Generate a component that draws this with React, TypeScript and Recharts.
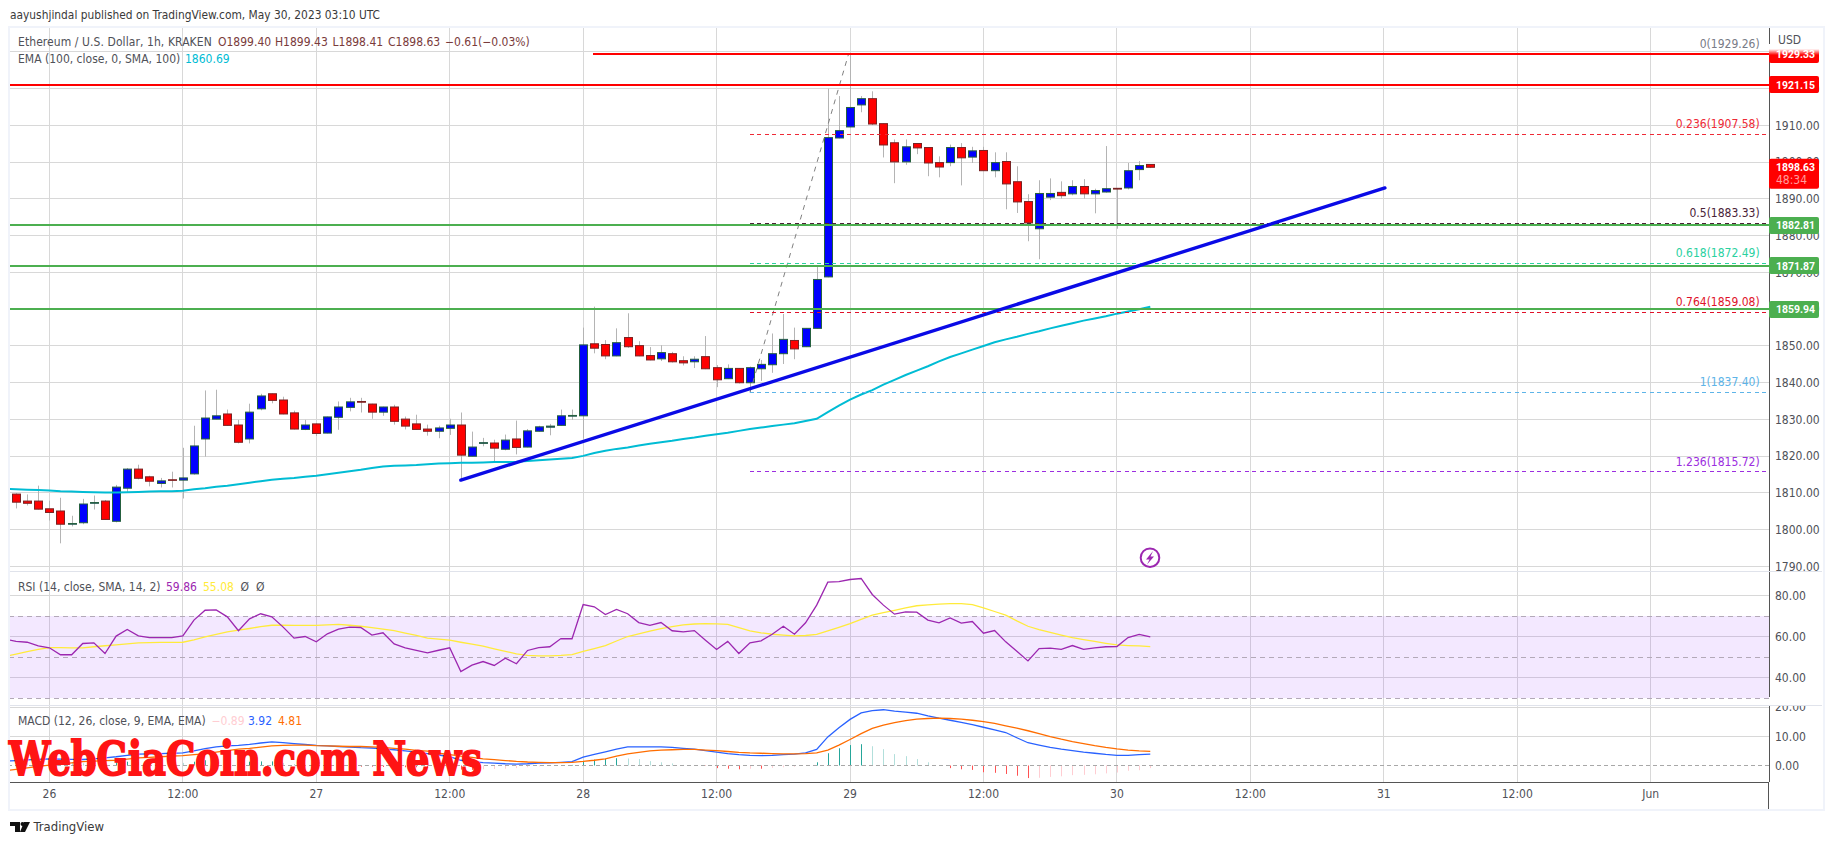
import React from 'react';
import { ComposedChart, Bar, Line, XAxis, YAxis, CartesianGrid, ReferenceLine, ReferenceArea } from 'recharts';

// Hour offset from May 26 00:00, first candle at -3
const firstHour = -3;
// open, high, low, close
const candles: number[][] = [
  [1809.7,1809.9,1805.8,1807.5],[1807.8,1809.6,1806.6,1807.2],[1807.8,1812,1805.5,1805.6],[1805.7,1807.9,1802.5,1804.7],
  [1805.1,1808.7,1796.3,1801.5],[1801.5,1803.8,1800.9,1801.7],[1801.9,1808.4,1801.5,1807],[1807.2,1809.3,1805.5,1807.4],
  [1807.8,1808.1,1802.7,1802.8],[1802.3,1812.2,1802,1811.6],[1811.3,1816.8,1810,1816.5],[1816.5,1817.7,1813.7,1814],
  [1814.4,1814.7,1811.8,1813.2],[1812.6,1814.1,1811.5,1813.3],[1813.6,1815.8,1811.5,1813.5],[1813.5,1822.3,1808.5,1814.1],
  [1815.2,1828.3,1815,1822.8],[1824.7,1837.9,1819.9,1830.4],[1830.1,1838.1,1830,1831],[1831.5,1832.7,1828.3,1828.4],
  [1828.5,1829.9,1823.5,1823.8],[1824.7,1834.3,1823.5,1832],[1832.9,1837,1832.5,1836.4],[1837,1837.1,1834.4,1835.2],
  [1835.3,1836.2,1831.4,1831.5],[1831.8,1832.4,1827.3,1827.4],[1827.3,1829.9,1827.1,1828.5],[1828.8,1829,1825.5,1826.2],
  [1826.3,1830.8,1826.2,1830.7],[1830.6,1834.9,1827.2,1833.4],[1833.3,1835.9,1832.2,1834.8],[1834.9,1835.9,1831.9,1834.7],
  [1834.2,1834.3,1830.2,1832],[1832,1833.5,1831,1833.4],[1833.4,1834,1828.6,1829.5],[1830.1,1830.8,1827.3,1828.2],
  [1828.8,1831.3,1827.2,1827.3],[1827.4,1828.6,1825.6,1826.8],[1826.8,1828.3,1824.9,1827.7],[1827.6,1830.2,1825.8,1828.5],
  [1828.5,1831.9,1813.4,1820.3],[1820,1826.7,1819.9,1822.5],[1823.5,1825,1822.7,1823.7],[1823.6,1824.5,1818.2,1822.2],
  [1821.9,1825.9,1821.6,1824.4],[1824.7,1829.7,1820.5,1822.4],[1822.5,1827.4,1822.4,1826.9],[1826.8,1828.3,1826.7,1828],
  [1827.9,1828.8,1825.7,1828.2],[1828.4,1832.7,1828.3,1831],[1830.9,1832.7,1829.9,1831.1],[1831,1855,1824.8,1850.3],
  [1850.6,1860.7,1848,1849.4],[1850.4,1851.6,1846.4,1847.3],[1847.3,1854.8,1847.2,1850.9],[1852.3,1858.9,1849.5,1849.8],
  [1850.1,1851.3,1847.2,1847.3],[1847.4,1849.7,1846.1,1846.2],[1846.5,1850.2,1845.9,1848.2],[1847.9,1848.4,1845.5,1845.7],
  [1846,1847.2,1844.7,1845.4],[1845.7,1847.2,1844,1846.4],[1847.1,1852.7,1843.7,1843.8],[1844.1,1844.8,1838.8,1840.8],
  [1841.1,1845,1841,1843.9],[1843.9,1844,1839.8,1840],[1840,1844.4,1837.4,1844.1],[1843.8,1846.2,1840.5,1845],
  [1844.9,1853.4,1842.7,1847.9],[1847.9,1858.7,1845.1,1851.8],[1851.5,1855,1846.4,1849.2],[1849.8,1854.9,1849.7,1854.8],
  [1854.8,1872,1854.7,1868.1],[1868.8,1920,1868.7,1906.7],[1906.6,1918,1906.5,1908.6],[1909.6,1929.3,1909.5,1914.9],
  [1915.6,1918,1913.6,1917.3],[1917.3,1919.3,1910.1,1910.4],[1910.5,1910.6,1901.3,1904.7],[1905.3,1906.2,1894.3,1900.1],
  [1900.1,1906.2,1899.3,1904.2],[1905.1,1905.2,1902.2,1903.9],[1904,1904.1,1896.2,1899.8],[1899.9,1901.6,1895.9,1898.7],
  [1899.9,1904.8,1898.9,1904],[1904,1905.2,1893.7,1901.2],[1901.4,1904.2,1899.8,1903.1],[1903.2,1904.2,1897.6,1897.7],
  [1897.7,1902.7,1895.9,1899.9],[1900.2,1902.7,1887.2,1894.1],[1894.7,1898.9,1886.2,1889.2],[1889.3,1891.3,1878.5,1883.5],
  [1881.9,1895.1,1873.6,1891.5],[1890.5,1895.6,1889.7,1891.5],[1891.8,1894.8,1890.1,1890.9],[1891.4,1895.1,1891,1893.4],
  [1893.4,1895.4,1890.1,1891.4],[1891.4,1892.8,1886.1,1892.3],[1891.9,1904.4,1891.7,1892.8],[1892.9,1893,1881.9,1892.7],
  [1893,1899.8,1892.6,1897.7],[1898,1900.3,1895.1,1899.1],[1899.4,1899.43,1898.41,1898.63],
];
// The lines below begin one hour earlier than the candles (h = -4), running off the left edge
const emaValues = [1811.1,1811,1810.9,1810.8,1810.7,1810.5,1810.4,1810.3,1810.2,1810.1,1810.1,1810.2,1810.3,1810.4,1810.5,1810.5,1810.6,1811,1811.3,1811.7,1812,1812.4,1812.8,1813.2,1813.6,1813.9,1814.1,1814.4,1814.7,1815.1,1815.5,1815.9,1816.3,1816.8,1817.2,1817.4,1817.5,1817.6,1817.8,1818,1818.1,1818.2,1818.2,1818.3,1818.4,1818.4,1818.5,1818.7,1818.9,1819.1,1819.3,1819.5,1820.1,1820.9,1821.5,1822,1822.4,1822.9,1823.4,1823.8,1824.2,1824.7,1825.1,1825.6,1826,1826.4,1826.9,1827.4,1827.8,1828.2,1828.6,1829,1829.6,1830.2,1832,1833.8,1835.4,1836.8,1838,1839.5,1840.8,1842.1,1843.3,1844.5,1845.8,1847,1848,1849,1850,1851,1851.8,1852.5,1853.3,1854,1854.8,1855.5,1856.2,1856.9,1857.5,1858.1,1858.8,1859.4,1860,1860.69];
const rsiValues = [58.7,57.6,57.2,55.4,54.5,51.1,51.1,56.6,56.9,51.7,60.2,63.4,60.3,59.5,59.5,59.5,60.3,68,72.8,73,69.6,62.8,68.6,71.1,69.6,64.7,59.2,60,57.4,61.3,63.6,64.6,64.4,60.7,61.8,56.4,54.5,53.2,52,53.3,54.5,42.9,46,47.8,45.9,49.4,46.7,53.2,54.6,55,59,58.9,75.6,74.5,70.7,73.2,71.1,66.8,65.4,66.8,62.8,62.3,62.9,58.2,53.7,57.6,51.7,56.9,57.9,61.1,65,61.1,66.7,75.3,86.5,86.8,87.8,88.3,80.5,75.3,70.9,72,71.9,68,66.7,69.1,66.5,67.3,61.6,62.9,57.4,52.8,48.1,54.1,54.3,53.7,55.6,53.7,54.5,55,55.1,59.5,61,59.86];
const rsiMaValues = [50.3,51.4,52.6,53.7,54.6,54.6,54.5,54.5,55,55.5,55.9,56.4,56.9,57,57.1,57.1,57.2,58.4,59.8,61,62.3,63.1,63.9,64.8,65.5,65.5,65.4,65.4,65.4,65.7,65.9,65.5,65,64.3,63.6,62.9,61.7,60.5,59.2,58.7,58.2,57.2,56.3,55.3,54,52.8,51.5,50.8,50.6,50.6,50.8,51.2,52.7,54.1,55.6,57.8,60,61.3,62.6,63.8,64.8,65.7,66.1,66.3,66.2,65.9,64.3,62.8,61.8,61.1,60.7,60.3,60.5,61,62.7,64.5,66.3,68.4,70.4,71.6,72.8,74,75,75.4,75.8,76,76,75.6,74,72.2,70.4,67.6,65,63.4,62,60.7,59.5,58.5,57.6,56.7,55.9,55.6,55.4,55.08];
const macdValues = [1.5,1.7,1.9,2.1,2.3,2.2,2.1,2.05,2.3,2.6,3,3.5,3.9,4,4.1,4.2,4.3,5,5.8,6.4,6.7,6.9,7.2,7.7,8.1,7.8,7.5,7.2,6.9,6.7,6.5,6.3,6.1,6,5.7,5.4,5,4.6,4.1,3.6,3,1.8,1.3,1,0.8,0.6,0.5,0.6,0.8,0.9,1.1,1.3,2.9,3.8,4.7,5.6,6.4,6.4,6.4,6.4,6.2,5.9,5.6,5.1,4.6,4.1,3.7,3.5,3.4,3.5,3.7,3.9,4.3,5.5,9.8,12.9,15.8,18,18.8,19.1,18.6,18.3,17.9,17,16.2,15.5,14.8,14,13.1,12.2,11.3,9.5,7.8,7,6.2,5.6,5.1,4.6,4.2,3.8,3.5,3.5,3.7,3.92];
const signalValues = [-1.8,-1.3,-0.8,-0.3,0.1,0.5,0.9,1.3,1.5,1.7,1.8,2.2,2.6,2.8,3,3.2,3.4,3.7,4,4.6,5.1,5.6,5.9,6.3,6.7,6.9,7,7,6.8,6.7,6.6,6.5,6.5,6.4,6.2,5.9,5.6,5.2,4.9,4.2,3.7,3.2,2.8,2.3,2,1.7,1.4,1.2,1.1,1,1,1.1,1.4,1.8,2.3,3.2,4,4.5,5,5.3,5.4,5.5,5.5,5.3,5.1,4.8,4.5,4.3,4.2,4.1,4,4,4.1,4.3,5.3,7,8.9,10.9,12.7,13.8,14.7,15.4,15.9,16.1,16.2,16.1,15.9,15.5,15,14.4,13.6,12.8,11.9,10.9,9.9,9,8.2,7.5,6.8,6.2,5.7,5.3,5,4.81];
// Histogram starts at h = -3 like the candles
const histValues = [3,2.7,2.4,2.2,1.7,1.2,0.75,0.8,0.9,1.2,1.3,1.3,1.2,1.1,1,0.9,1.3,1.8,1.8,1.6,1.3,1.3,1.4,1.4,0.9,0.5,0.2,0.1,0,-0.1,-0.2,-0.4,-0.4,-0.5,-0.5,-0.6,-0.6,-0.8,-0.6,-0.7,-1.4,-1.5,-1.3,-1.2,-1.1,-0.9,-0.6,-0.3,-0.1,0.1,0.2,1.5,2,2.3,2.5,2.4,2.2,1.5,1.1,0.7,0.2,0,-0.1,-0.9,-1.1,-1.3,-1.1,-1.1,-0.8,-0.6,-0.4,0,1.1,4.2,5.9,7,7.3,6.6,5.6,3.9,3.2,2.2,1.1,0.05,-0.9,-1.3,-1.5,-2.3,-2.5,-2.9,-3.5,-4.3,-4.2,-3.9,-3.7,-3.3,-3.2,-3,-2.7,-2.4,-1.8,-1.6,-0.89];

const xTicks = [0,12,24,36,48,60,72,84,96,108,120,132,144];
const xLabels = ['26','12:00','27','12:00','28','12:00','29','12:00','30','12:00','31','12:00','Jun'];
const priceTicks = [1790,1800,1810,1820,1830,1840,1850,1860,1870,1880,1890,1900,1910,1920,1930];
const rsiTicks = [40,60,80];
const rsiBands = [30,50,70];
const macdTicks = [0,10,20];
const macdGrid = [10,20];

const fibRatios = ['0','0.236','0.5','0.618','0.764','1','1.236'];
const fibPrices = [1929.26,1907.58,1883.33,1872.49,1859.08,1837.40,1815.72];
const fibColors = ['#787b86','#ee2a36','#4a2338','#2bd19f','#e0122a','#5db4e8','#9c2ee0'];
const fibStartHour = 63;
const fibEndHour = 154.46;
const fibTrend = [[63,1837.4],[71.85,1929.26]];
const trendLine = [[37,1813.5],[120.1,1893]];
const redLevels = [1929.33,1921.15];
const redStarts = [48.9,null];
const greenLevels = [1882.81,1871.87,1859.94];
const lastPrice = 1898.63;

const FONT = '"DejaVu Sans Condensed", "DejaVu Sans", "Noto Sans", sans-serif';
const LEFT = 10, CHART_W = 1815, AXIS_W = 56;
const X_DOMAIN: [number, number] = [-3.543, 154.64];
const PRICE_DOMAIN: [number, number] = [1788.5, 1936.8];

const rows: any[] = emaValues.map((_, i) => {
  const h = firstHour - 1 + i;
  const c = candles[i - 1];
  const row: any = { h, ema: emaValues[i], rsi: rsiValues[i], rsiMa: rsiMaValues[i], macd: macdValues[i], signal: signalValues[i] };
  if (c) {
    row.o = c[0]; row.hi = c[1]; row.lo = c[2]; row.c = c[3];
    row.hist = histValues[i - 1];
    row.prevHist = i > 1 ? histValues[i - 2] : histValues[i - 1];
  }
  return row;
});

const rangeKey = (d: any) => (d.o == null ? null : [d.lo, d.hi]);

const Candle = (p: any) => {
  const d = p.payload;
  if (!d || d.o == null || p.height == null) return null;
  const { x, y, width, height } = p;
  const per = height / (d.hi - d.lo);
  const yO = y + (d.hi - d.o) * per;
  const yC = y + (d.hi - d.c) * per;
  const top = Math.min(yO, yC);
  const bh = Math.max(Math.abs(yO - yC), 0.6);
  const up = d.c >= d.o;
  const cx = Math.round(x + width / 2) + 0.5;
  return (
    <g>
      <line x1={cx} x2={cx} y1={y} y2={y + height} stroke="#b4b4b4" strokeWidth={1} />
      <rect x={cx - 4} y={top} width={8} height={bh} fill={up ? '#0000ff' : '#ff0000'} stroke={up ? '#25603f' : '#7a2222'} strokeWidth={1} />
    </g>
  );
};

const HistBar = (p: any) => {
  const d = p.payload;
  if (!d || d.hist == null || !p.height) return null;
  const v = d.hist, prev = d.prevHist;
  const color = v >= 0 ? (v >= prev ? '#26a69a' : '#b2dfdb') : (v <= prev ? '#ff5252' : '#ffcdd2');
  const cx = Math.round(p.x + p.width / 2);
  const y0 = Math.min(p.y, p.y + p.height);
  return <rect x={cx} y={y0} width={1} height={Math.abs(p.height)} fill={color} />;
};

const tickStyle = { fontSize: 12, fontFamily: FONT, fill: '#4f5158' };
const fmt2 = (v: number) => v.toFixed(2);

const fibLabel = (i: number) => (props: any) => {
  const vb = props.viewBox;
  return (
    <text x={1759.7 - LEFT} y={vb.y - 10.5} dy="0.35em" textAnchor="end" fontSize={12} fontFamily={FONT} fill={fibColors[i]}>
      {`${fibRatios[i]}(${fibPrices[i].toFixed(2)})`}
    </text>
  );
};

const tag = (value: number, color: string, extra?: string) => (props: any) => {
  const vb = props.viewBox;
  const x = vb.x + vb.width;
  const h = extra ? 30 : 17;
  return (
    <g>
      <rect x={x} y={vb.y - 8.5} width={50} height={h} rx={2} fill={color} />
      <text x={x + 7} y={vb.y} dy="0.35em" fontSize={11.5} fontWeight={700} fontFamily="Roboto, sans-serif" textLength={39} lengthAdjust="spacingAndGlyphs" fill="#fff">{value.toFixed(2)}</text>
      {extra ? <text x={x + 7} y={vb.y + 13} dy="0.35em" fontSize={12} fontFamily={FONT} fill="#ff9d9d">{extra}</text> : null}
    </g>
  );
};

const T = ({ x, y, c = '#4f5158', s = 12, ls = 0, children }: any) => (
  <span style={{ position: 'absolute', left: x, top: y - 10, height: 20, lineHeight: '20px', color: c, fontSize: s, letterSpacing: ls, fontFamily: FONT, whiteSpace: 'pre' }}>{children}</span>
);

const crisp = { shapeRendering: 'crispEdges' } as any;

export default function App() {
  const abs = (left: number, top: number): React.CSSProperties => ({ position: 'absolute', left, top });
  return (
    <div style={{ position: 'absolute', left: 0, top: 0, width: 1834, height: 845, background: '#fff', overflow: 'hidden' }}>
      <style>{`.recharts-cartesian-grid line, .recharts-cartesian-axis-line { shape-rendering: crispEdges; }`}</style>

      {/* MACD pane with time axis */}
      <div style={abs(LEFT, 705)}>
        <ComposedChart width={CHART_W} height={104} data={rows} margin={{ top: 0, right: 0, bottom: 0, left: 0 }}>
          <CartesianGrid stroke="#d8d8d8" verticalValues={xTicks} horizontalValues={macdGrid} />
          <XAxis dataKey="h" type="number" domain={X_DOMAIN} allowDataOverflow ticks={xTicks} interval={0} height={27}
            tickFormatter={(_: any, i: number) => xLabels[i]} tick={tickStyle} tickLine={false} tickSize={0} tickMargin={7}
            axisLine={{ stroke: '#555' }} />
          <YAxis orientation="right" width={AXIS_W} domain={[-5.65, 20.72]} allowDataOverflow ticks={macdTicks} interval={0}
            tickFormatter={fmt2} tick={tickStyle} tickLine={false} tickSize={0} tickMargin={6} axisLine={{ stroke: '#555' }} />
          <ReferenceLine y={0} stroke="#a8a8a8" strokeDasharray="4 3" {...crisp} />
          <Bar dataKey="hist" barSize={1} shape={HistBar} isAnimationActive={false} />
          <Line dataKey="macd" stroke="#2962ff" strokeWidth={1.3} dot={false} isAnimationActive={false} />
          <Line dataKey="signal" stroke="#ff6d00" strokeWidth={1.3} dot={false} isAnimationActive={false} />
        </ComposedChart>
      </div>

      {/* RSI pane */}
      <div style={abs(LEFT, 572)}>
        <ComposedChart width={CHART_W} height={133} data={rows} margin={{ top: 0, right: 0, bottom: 0, left: 0 }}>
          <CartesianGrid stroke="#d8d8d8" verticalValues={xTicks} horizontalValues={rsiTicks} />
          <XAxis dataKey="h" type="number" domain={X_DOMAIN} allowDataOverflow ticks={xTicks} hide />
          <YAxis orientation="right" width={AXIS_W} domain={[26.6, 91.46]} allowDataOverflow ticks={rsiTicks} interval={0}
            tickFormatter={fmt2} tick={tickStyle} tickLine={false} tickSize={0} tickMargin={6} axisLine={{ stroke: '#555' }} />
          <ReferenceArea y1={rsiBands[0]} y2={rsiBands[2]} fill="#8c1aff" fillOpacity={0.1} stroke="none" />
          {rsiBands.map((b) => <ReferenceLine key={b} y={b} stroke="#b3a9b8" strokeDasharray="5 4" {...crisp} />)}
          <Line dataKey="rsiMa" stroke="#ffeb3b" strokeWidth={1.3} dot={false} isAnimationActive={false} />
          <Line dataKey="rsi" stroke="#9c27b0" strokeWidth={1.3} dot={false} isAnimationActive={false} />
        </ComposedChart>
      </div>

      {/* Price pane */}
      <div style={abs(LEFT, 27)}>
        <ComposedChart width={CHART_W} height={545} data={rows} margin={{ top: 0, right: 0, bottom: 0, left: 0 }}>
          <CartesianGrid stroke="#d8d8d8" verticalValues={xTicks} horizontalValues={priceTicks} />
          <XAxis dataKey="h" type="number" domain={X_DOMAIN} allowDataOverflow ticks={xTicks} hide />
          <YAxis orientation="right" width={AXIS_W} domain={PRICE_DOMAIN} allowDataOverflow ticks={priceTicks} interval={0}
            tickFormatter={fmt2} tick={tickStyle} tickLine={false} tickSize={0} tickMargin={6} axisLine={{ stroke: '#555' }} />
          <Bar dataKey={rangeKey} barSize={9} shape={Candle} isAnimationActive={false} />
          <Line dataKey="ema" stroke="#00bcd4" strokeWidth={2} dot={false} isAnimationActive={false} />
          <ReferenceLine stroke="#808080" strokeDasharray="5 5" segment={[{ x: fibTrend[0][0], y: fibTrend[0][1] }, { x: fibTrend[1][0], y: fibTrend[1][1] }]} />
          {fibPrices.map((p, i) => (
            <ReferenceLine key={'f' + i} stroke={fibColors[i]} strokeDasharray="4 3.5" {...crisp}
              segment={[{ x: fibStartHour, y: p }, { x: fibEndHour, y: p }]} />
          ))}
          {fibPrices.map((p, i) => <ReferenceLine key={'fl' + i} y={p} stroke="none" label={fibLabel(i)} />)}
          {greenLevels.map((p) => <ReferenceLine key={p} y={p} stroke="#4caf50" strokeWidth={2} {...crisp} />)}
          {redLevels.map((p, i) => (redStarts[i] == null
            ? <ReferenceLine key={p} y={p} stroke="#ff0000" strokeWidth={2} {...crisp} />
            : <ReferenceLine key={p} stroke="#ff0000" strokeWidth={2} {...crisp} segment={[{ x: redStarts[i] as number, y: p }, { x: X_DOMAIN[1], y: p }]} />))}
          <ReferenceLine stroke="#0a0ae6" strokeWidth={3.4} strokeLinecap="round" segment={[{ x: trendLine[0][0], y: trendLine[0][1] }, { x: trendLine[1][0], y: trendLine[1][1] }]} />
        </ComposedChart>
      </div>

      {/* Price tags, drawn above the axis labels with the same scales */}
      <div style={abs(LEFT, 27)}>
        <ComposedChart width={CHART_W} height={545} data={rows} margin={{ top: 0, right: AXIS_W, bottom: 0, left: 0 }}>
          <XAxis dataKey="h" type="number" domain={X_DOMAIN} allowDataOverflow hide />
          <YAxis domain={PRICE_DOMAIN} allowDataOverflow hide />
          {redLevels.map((p) => <ReferenceLine key={'t' + p} y={p} stroke="none" label={tag(p, '#ff0000')} />)}
          {greenLevels.map((p) => <ReferenceLine key={'t' + p} y={p} stroke="none" label={tag(p, '#4caf50')} />)}
          <ReferenceLine y={lastPrice} stroke="none" label={tag(lastPrice, '#ff0000', '48:34')} />
        </ComposedChart>
      </div>

      {/* frame and pane separators */}
      <div style={{ position: 'absolute', left: 8, top: 26, width: 1813, height: 781, border: '2px solid #f0f3fa', pointerEvents: 'none' }} />
      <div style={{ ...abs(10, 571), width: 1812, height: 1, background: '#e0e3eb' }} />
      <div style={{ ...abs(10, 705), width: 1812, height: 1, background: '#e0e3eb' }} />
      <div style={{ ...abs(1769, 697), width: 53, height: 8, background: '#fff' }} />
      <div style={{ ...abs(1768, 782), width: 1, height: 27, background: '#555' }} />
      <div style={{ ...abs(1769, 44), width: 52, height: 11, background: 'linear-gradient(#fff 45%, rgba(255,255,255,0))' }} />

      {/* text */}
      <T x={10} y={15} c="#3a3a3a" s={11.85}>aayushjindal published on TradingView.com, May 30, 2023 03:10 UTC</T>
      <T x={18} y={42} ls={0.08}>Ethereum / U.S. Dollar, 1h, KRAKEN</T>
      <T x={218} y={42} c="#7a3b3b">O1899.40</T>
      <T x={275} y={42} c="#7a3b3b">H1899.43</T>
      <T x={332.5} y={42} c="#7a3b3b">L1898.41</T>
      <T x={388} y={42} c="#7a3b3b">C1898.63</T>
      <T x={445} y={42} c="#7a3b3b">−0.61</T>
      <T x={478} y={42} c="#7a3b3b">(−0.03%)</T>
      <T x={18} y={59}>EMA (100, close, 0, SMA, 100)</T>
      <T x={185} y={59} c="#00bcd4">1860.69</T>
      <T x={1778} y={40}>USD</T>

      <T x={18} y={587}>RSI (14, close, SMA, 14, 2)</T>
      <T x={166} y={587} c="#9c27b0">59.86</T>
      <T x={203} y={587} c="#ffeb3b">55.08</T>
      <T x={240.5} y={587}>Ø</T>
      <T x={256} y={587}>Ø</T>

      <T x={18} y={721}>MACD (12, 26, close, 9, EMA, EMA)</T>
      <T x={211.5} y={721} c="#ffcdd2">−0.89</T>
      <T x={248} y={721} c="#2962ff">3.92</T>
      <T x={278} y={721} c="#ff6d00">4.81</T>

      <T x={33.5} y={827} c="#3a3a3a" s={13}>TradingView</T>

      <svg width={1834} height={845} style={{ ...abs(0, 0), pointerEvents: 'none' }}>
        <text x={9} y={775} textLength={473} lengthAdjust="spacingAndGlyphs" fontFamily='"DejaVu Serif", serif' fontWeight={700} fontSize={47}
          fill="#ff1414" stroke="#ff1414" strokeWidth={2}>WebGiaCoin.com News</text>
        <circle cx={1150} cy={557.7} r={9.3} fill="none" stroke="#9c27b0" strokeWidth={2} />
        <path d="M1153 551 L1146 559.5 L1149.5 559.5 L1147 564.5 L1154 556.5 L1150.5 556.5 Z" fill="#9c27b0" />
        <path d="M10 822 H20 V832 H15 V826 H10 Z" fill="#111" />
        <circle cx={22.5} cy={824} r={2} fill="#111" />
        <path d="M24 822 H30 L25 832 H20 Z" fill="#111" />
      </svg>
    </div>
  );
}
